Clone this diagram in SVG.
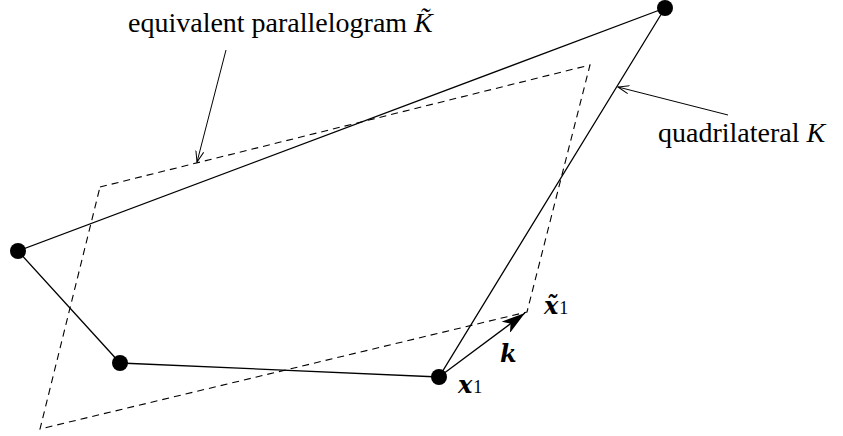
<svg xmlns="http://www.w3.org/2000/svg" width="843" height="436" viewBox="0 0 843 436">
<style>
.solid{fill:none;stroke:#000;stroke-width:1.3}
.dash{fill:none;stroke:#000;stroke-width:1.1;stroke-dasharray:7,5}
.lead{fill:none;stroke:#000;stroke-width:1}
.dot{fill:#000}
.lbl{font-family:"Liberation Serif","Times New Roman",serif;font-size:28px;fill:#000}
.m{font-family:"DejaVu Serif","Liberation Serif",serif;font-style:italic;font-weight:bold;font-size:24px;fill:#000}
.sub{font-family:"Liberation Serif","Times New Roman",serif;font-style:normal;font-weight:normal;font-size:18px;fill:#000}
</style>
<defs>
<marker id="open" markerWidth="12" markerHeight="10" refX="11" refY="5" orient="auto" markerUnits="userSpaceOnUse">
<path d="M0,1 L11,5 L0,9" fill="none" stroke="#000" stroke-width="1"/>
</marker>
<marker id="filled" markerWidth="26" markerHeight="14" refX="24" refY="7" orient="auto" markerUnits="userSpaceOnUse">
<path d="M0,0 L24,7 L0,14 L6,7 Z" fill="#000"/>
</marker>
</defs>
<g id="connectors">
<polygon id="parallelogram" class="dash" points="100,187 590,65 527,312 40,429"/>
<polyline id="quadrilateral" class="solid" points="665,8 18,251 120,363 439,377 665,8"/>
<line class="lead" x1="226" y1="50" x2="197" y2="162" marker-end="url(#open)"/>
<line class="lead" x1="728" y1="115" x2="618" y2="87" marker-end="url(#open)"/>
<line class="solid" x1="439" y1="377" x2="525" y2="313" stroke-width="1.5" marker-end="url(#filled)"/>
</g>
<g id="v-top"><circle class="dot" cx="665" cy="8" r="8"/></g>
<g id="v-left"><circle class="dot" cx="18" cy="251" r="8"/></g>
<g id="v-bottom"><circle class="dot" cx="120" cy="363" r="8"/></g>
<g id="v-x1"><circle class="dot" cx="439" cy="377" r="8"/></g>
<g id="label-parallelogram">
<text class="lbl" x="128" y="32">equivalent parallelogram <tspan font-style="italic">K̃</tspan></text>
</g>
<g id="label-quadrilateral">
<text class="lbl" x="658" y="142" font-size="30">quadrilateral <tspan font-style="italic">K</tspan></text>
</g>
<g id="label-xt1">
<text class="m" x="544" y="314">x̃<tspan class="sub" dx="1">1</tspan></text>
</g>
<g id="label-k"><text class="m" x="500" y="362">k</text></g>
<g id="label-x1">
<text class="m" x="458" y="393">x<tspan class="sub" dx="1">1</tspan></text>
</g>
</svg>
